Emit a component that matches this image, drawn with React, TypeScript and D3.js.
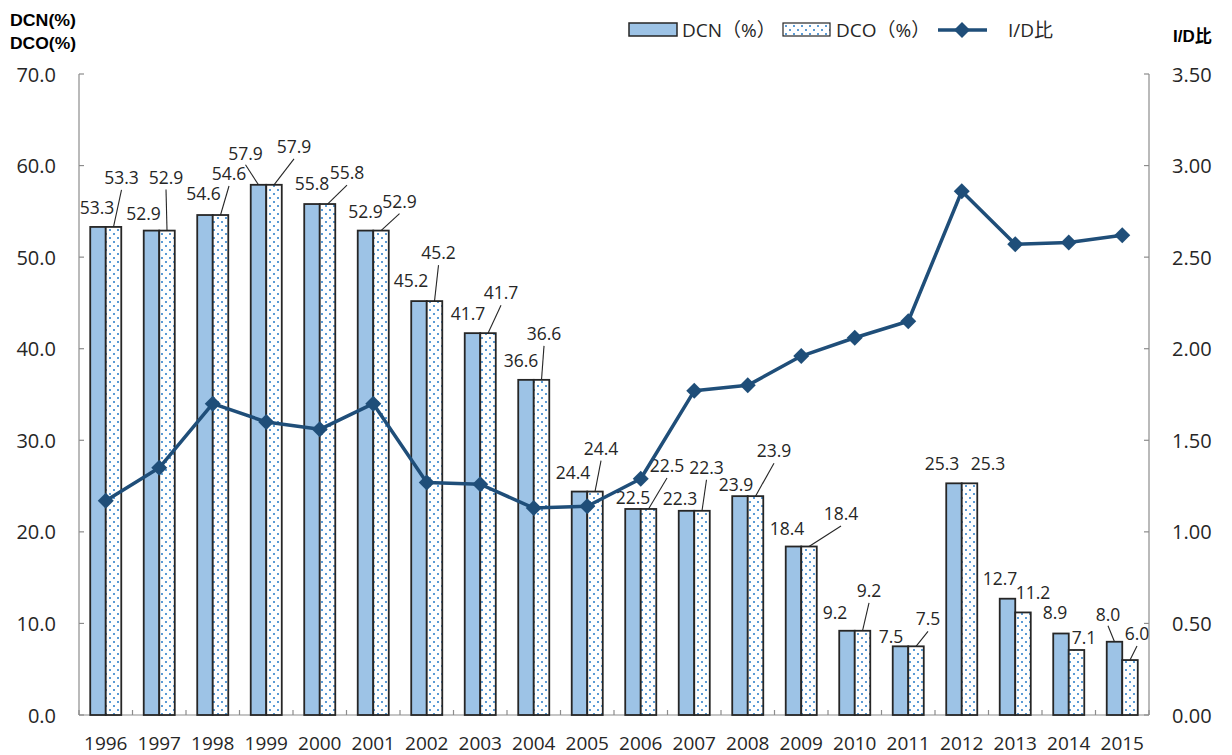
import React from "react";
import * as d3 from "d3";

const years = ["1996","1997","1998","1999","2000","2001","2002","2003","2004","2005","2006","2007","2008","2009","2010","2011","2012","2013","2014","2015"];
const dcn = [53.3,52.9,54.6,57.9,55.8,52.9,45.2,41.7,36.6,24.4,22.5,22.3,23.9,18.4,9.2,7.5,25.3,12.7,8.9,8.0];
const dco = [53.3,52.9,54.6,57.9,55.8,52.9,45.2,41.7,36.6,24.4,22.5,22.3,23.9,18.4,9.2,7.5,25.3,11.2,7.1,6.0];
const idRatio = [1.17,1.35,1.70,1.60,1.56,1.70,1.27,1.26,1.13,1.14,1.29,1.77,1.80,1.96,2.06,2.15,2.86,2.57,2.58,2.62];
const leftTicks = [0,10,20,30,40,50,60,70];
const rightTicks = [0,0.5,1,1.5,2,2.5,3,3.5];

// manual data-label placement (offsets from bar top centre), as in the original
const dcnDx = [-1,-8,-1.5,-13,0,0,-8,-4.5,-5,-6.5,0,-6.5,-4,-6.5,-12,-9.5,-12,-7.5,-6,-6.5];
const dcnDy = [-20,-18,-22,-32,-21,-20,-21,-20,-20,-20,-12,-13,-12,-18.5,-19,-10,-20,-21,-21.5,-28];
const dcnLeader = [0,0,0,1,0,0,0,0,0,0,0,0,0,0,0,0,0,0,0,1];
const dcoDx = [8,-1,8.5,20,19.5,18.5,4,13,2.5,6,18.5,4.5,18.5,32,6.5,12,18.5,10,7.5,7];
const dcoDy = [-50,-54,-42,-39,-32,-30,-49,-41,-47,-44,-44,-44,-46,-33.5,-41,-28,-20,-20,-13,-27];
const dcoLeader = [1,1,1,1,1,1,1,1,1,1,1,1,1,1,1,1,0,0,0,1];

const W = 1232, H = 755;
const L = 79, R = 1149, T = 74, B = 715;
const FONT = "'Open Sans', 'Noto Sans CJK JP', sans-serif";
const TXT = "#262626";
const AX = "#8c8c8c";
const LINE = "#1f4e79";
const BARFILL = "#9dc3e6";
const BARSTROKE = "#262626";

export default function App() {
  const x = d3.scaleBand<string>().domain(years).range([L, R]).paddingInner(0).paddingOuter(0);
  const yL = d3.scaleLinear().domain([0, 70]).range([B, T]);
  const yR = d3.scaleLinear().domain([0, 3.5]).range([B, T]);
  const bw = x.bandwidth() * 0.29;
  const cx = (i: number) => (x(years[i]) as number) + x.bandwidth() / 2;
  const line = d3.line<number>().x((_, i) => cx(i)).y((d) => yR(d));
  const diamond = (px: number, py: number, r: number) => `M${px},${py - r}L${px + r},${py}L${px},${py + r}L${px - r},${py}Z`;

  return (
    <svg width={W} height={H} style={{ position: "absolute", left: 0, top: 0, background: "#fff" }} fontFamily={FONT}>
      <defs>
        <pattern id="dots" width="8" height="8" patternUnits="userSpaceOnUse">
          <rect width="8" height="8" fill="#fff" />
          <rect x="1" y="1" width="2" height="2" fill="#5b9bd5" />
          <rect x="5" y="5" width="2" height="2" fill="#5b9bd5" />
        </pattern>
      </defs>

      {/* axes */}
      <line x1={L} y1={T} x2={L} y2={B} stroke={AX} strokeWidth={1.2} />
      <line x1={R} y1={T} x2={R} y2={B} stroke={AX} strokeWidth={1.2} />
      <line x1={L} y1={B} x2={R} y2={B} stroke={AX} strokeWidth={1.2} />
      {leftTicks.map((t) => (
        <g key={"lt" + t}>
          <line x1={L} x2={L + 5} y1={yL(t)} y2={yL(t)} stroke={AX} strokeWidth={1.2} />
          <text x={56} y={yL(t)} textAnchor="end" dominantBaseline="central" fontSize={20} fill={TXT}>{t.toFixed(1)}</text>
        </g>
      ))}
      {rightTicks.map((t) => (
        <g key={"rt" + t}>
          <line x1={R - 5} x2={R} y1={yR(t)} y2={yR(t)} stroke={AX} strokeWidth={1.2} />
          <text x={1172} y={yR(t)} textAnchor="start" dominantBaseline="central" fontSize={20} fill={TXT}>{t.toFixed(2)}</text>
        </g>
      ))}
      {d3.range(years.length + 1).map((k) => (
        <line key={"xt" + k} x1={L + k * x.bandwidth()} x2={L + k * x.bandwidth()} y1={B} y2={B - 5} stroke={AX} strokeWidth={1.2} />
      ))}
      {years.map((yr, i) => (
        <text key={"xl" + yr} x={cx(i)} y={743} textAnchor="middle" dominantBaseline="central" fontSize={19} fill={TXT}>{yr}</text>
      ))}

      {/* axis titles */}
      <text x={10} y={20} dominantBaseline="central" fontSize={17} fontWeight="bold" fill="#000" fontFamily="'Liberation Sans', sans-serif" textLength={66} lengthAdjust="spacingAndGlyphs">DCN(%)</text>
      <text x={10} y={43} dominantBaseline="central" fontSize={17} fontWeight="bold" fill="#000" fontFamily="'Liberation Sans', sans-serif" textLength={66} lengthAdjust="spacingAndGlyphs">DCO(%)</text>
      <text x={1173} y={36} dominantBaseline="central" fontSize={17} fontWeight="bold" fill="#000" fontFamily="'Liberation Sans', 'Noto Sans CJK JP', sans-serif">I/D比</text>

      {/* bars */}
      {years.map((yr, i) => (
        <g key={"b" + yr}>
          <rect x={cx(i) - bw} y={yL(dcn[i])} width={bw} height={B - yL(dcn[i])} fill={BARFILL} stroke={BARSTROKE} strokeWidth={1.8} />
          <rect x={cx(i)} y={yL(dco[i])} width={bw} height={B - yL(dco[i])} fill="url(#dots)" stroke={BARSTROKE} strokeWidth={1.8} />
        </g>
      ))}

      {/* data labels */}
      {years.map((yr, i) => {
        const ax = cx(i) - bw / 2, ay = yL(dcn[i]);
        const bx = cx(i) + bw / 2, by = yL(dco[i]);
        const lx1 = ax + dcnDx[i], ly1 = ay + dcnDy[i];
        const lx2 = bx + dcoDx[i], ly2 = by + dcoDy[i];
        return (
          <g key={"lab" + yr}>
            {dcnLeader[i] ? <line x1={lx1} y1={ly1 + 12} x2={ax} y2={ay} stroke={TXT} strokeWidth={1.1} /> : null}
            {dcoLeader[i] ? <line x1={lx2} y1={ly2 + 13} x2={bx} y2={by} stroke={TXT} strokeWidth={1.1} /> : null}
            <text x={lx1} y={ly1} textAnchor="middle" dominantBaseline="central" fontSize={17.5} fill={TXT}>{dcn[i].toFixed(1)}</text>
            <text x={lx2} y={ly2} textAnchor="middle" dominantBaseline="central" fontSize={17.5} fill={TXT}>{dco[i].toFixed(1)}</text>
          </g>
        );
      })}

      {/* I/D line */}
      <path d={line(idRatio) || ""} fill="none" stroke={LINE} strokeWidth={3.5} strokeLinejoin="round" />
      {idRatio.map((v, i) => (
        <path key={"m" + i} d={diamond(cx(i), yR(v), 8)} fill={LINE} />
      ))}

      {/* legend */}
      <rect x={629} y={23} width={48} height={13} fill={BARFILL} stroke={BARSTROKE} strokeWidth={1.5} />
      <text x={682} y={30} dominantBaseline="central" fontSize={19} fill={TXT}>DCN（%）</text>
      <rect x={783} y={23} width={47} height={13} fill="url(#dots)" stroke={BARSTROKE} strokeWidth={1.2} />
      <text x={836} y={30} dominantBaseline="central" fontSize={19} fill={TXT}>DCO（%）</text>
      <line x1={938} x2={987} y1={30} y2={30} stroke={LINE} strokeWidth={3.5} />
      <path d={diamond(962, 30, 8)} fill={LINE} />
      <text x={1008} y={30} dominantBaseline="central" fontSize={19} fill={TXT}>I/D比</text>
    </svg>
  );
}
